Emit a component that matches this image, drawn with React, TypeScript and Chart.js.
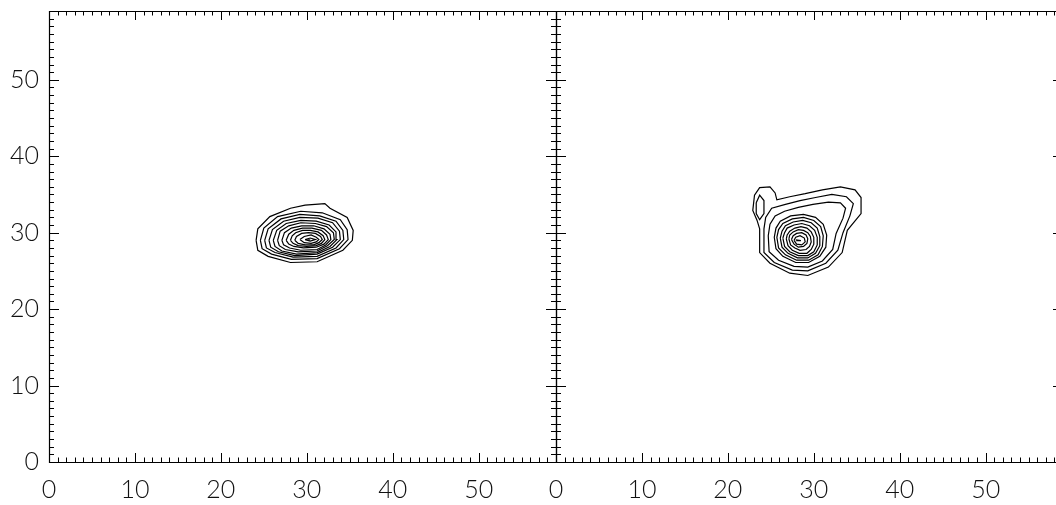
import React, { useEffect, useRef } from 'react';
import { Chart, registerables } from 'chart.js';

Chart.register(...registerables);

// ---- axes ----
const xTickLabels = [0, 10, 20, 30, 40, 50];
const yTickLabels = [0, 10, 20, 30, 40, 50];
const axisMin = 0;
const axisMax = 59;

// ---- left panel contours (x, y) ----
const leftRing1 = [[24.1,29.0],[24.3,27.7],[25.5,26.9],[28.1,26.1],[31.2,26.2],[34.2,27.7],[35.3,29.0],[35.4,30.3],[34.7,32.0],[32.7,33.2],[32.1,33.8],[29.8,33.6],[28.1,33.2],[25.7,32.1],[24.3,30.5],[24.1,29.0]];
const leftRing2 = [[24.6,29.0],[24.8,27.9],[25.9,27.2],[28.2,26.5],[31.2,26.6],[33.8,27.9],[34.8,29.1],[34.7,30.4],[33.9,31.7],[31.8,32.6],[29.3,32.8],[26.6,32.1],[25.0,30.6],[24.6,29.0]];
const leftRing3 = [[25.1,29.0],[25.3,28.0],[26.3,27.4],[28.4,26.8],[31.2,26.9],[33.4,28.0],[34.3,29.1],[34.2,30.3],[33.4,31.5],[31.5,32.2],[29.2,32.4],[27.0,31.8],[25.5,30.5],[25.1,29.0]];
const leftRing4 = [[25.6,29.0],[25.8,28.1],[26.7,27.5],[28.6,27.0],[31.2,27.2],[33.0,28.1],[33.9,29.1],[33.8,30.2],[33.0,31.3],[31.3,31.9],[29.2,32.0],[27.3,31.5],[26.0,30.4],[25.6,29.0]];
const leftRing5 = [[26.1,29.0],[26.3,28.2],[27.1,27.6],[28.8,27.2],[31.2,27.4],[32.7,28.2],[33.5,29.1],[33.4,30.1],[32.6,31.0],[31.1,31.5],[29.3,31.6],[27.6,31.2],[26.5,30.3],[26.1,29.0]];
const leftRing6 = [[26.6,29.0],[26.8,28.3],[27.5,27.8],[29.0,27.5],[31.2,27.6],[32.4,28.3],[33.2,29.1],[33.1,30.0],[32.3,30.8],[31.0,31.2],[29.3,31.3],[27.9,30.9],[26.9,30.2],[26.6,29.0]];
const leftRing7 = [[27.1,29.0],[27.3,28.4],[28.0,28.0],[29.3,27.7],[31.2,27.8],[32.2,28.4],[32.8,29.1],[32.7,29.8],[32.0,30.5],[30.8,30.9],[29.4,30.9],[28.2,30.6],[27.4,30.0],[27.1,29.0]];
const leftRing8 = [[27.6,29.0],[27.9,28.5],[28.5,28.2],[29.6,28.0],[31.1,28.1],[32.0,28.5],[32.5,29.1],[32.3,29.7],[31.7,30.3],[30.6,30.6],[29.5,30.6],[28.5,30.3],[27.9,29.8],[27.6,29.0]];
const leftRing9 = [[28.1,29.0],[28.4,28.6],[29.0,28.3],[30.0,28.2],[31.1,28.3],[31.7,28.6],[32.1,29.1],[31.9,29.6],[31.3,30.1],[30.4,30.3],[29.5,30.3],[28.7,30.0],[28.3,29.6],[28.1,29.0]];
const leftRing10 = [[28.6,29.0],[29.0,28.6],[29.8,28.4],[30.8,28.4],[31.4,28.7],[31.8,29.1],[31.6,29.5],[31.0,29.9],[30.2,30.0],[29.4,29.9],[28.8,29.5],[28.6,29.0]];
const leftRing11 = [[29.2,29.1],[29.7,28.7],[30.5,28.6],[31.1,28.8],[31.4,29.1],[31.1,29.4],[30.5,29.7],[29.7,29.5],[29.2,29.1]];
const leftRing12 = [[29.8,29.1],[30.4,28.9],[31.0,29.1],[30.4,29.3],[29.8,29.1]];
const leftPeak = [[30.1,29.05],[30.4,29.05]];

// ---- right panel contours (x, y) ----
const rightRing1 = [[23.7,30.5],[23.7,27.4],[24.9,26.0],[27.2,24.7],[29.3,24.4],[31.7,25.5],[33.3,27.4],[33.9,30.3],[35.5,32.5],[35.5,34.6],[34.8,35.6],[33.1,36.0],[31.0,35.6],[29.0,35.1],[27.2,34.7],[25.7,34.3],[25.5,35.2],[24.9,36.0],[23.7,35.9],[23.1,34.9],[22.9,32.9],[23.4,31.6],[23.7,30.5]];
const rightEar = [[23.3,33.9],[23.7,34.9],[24.2,34.2],[24.2,32.5],[23.7,31.7],[23.3,32.5],[23.3,33.9]];
const rightRing2 = [[24.2,30.5],[24.2,27.4],[25.4,26.1],[27.5,25.1],[29.3,25.0],[31.4,26.0],[32.8,27.7],[33.4,30.0],[34.2,32.2],[34.6,33.8],[33.8,34.7],[32.1,35.0],[30.2,34.6],[28.4,34.2],[26.7,33.7],[25.1,33.2],[24.4,32.0],[24.2,30.5]];
const rightRing3 = [[24.7,29.6],[24.8,27.5],[25.9,26.4],[27.7,25.6],[29.3,25.5],[31.0,26.3],[32.2,27.8],[32.6,29.9],[33.4,31.9],[33.7,33.2],[33.1,33.9],[31.7,34.0],[29.9,33.7],[28.2,33.3],[26.6,32.8],[25.5,32.2],[24.9,31.1],[24.7,29.6]];
const rightRing4 = [[25.4,29.4],[25.6,27.9],[26.4,26.9],[27.9,26.1],[29.4,26.1],[30.7,26.9],[31.4,28.1],[31.5,29.7],[31.1,31.1],[30.2,32.0],[28.8,32.4],[27.3,32.2],[26.1,31.5],[25.6,30.6],[25.4,29.4]];
const rightRing5 = [[25.7,29.4],[25.9,28.0],[26.7,27.1],[28.0,26.4],[29.4,26.4],[30.5,27.1],[31.0,28.2],[31.1,29.6],[30.8,30.8],[30.0,31.6],[28.8,32.0],[27.5,31.8],[26.4,31.2],[25.9,30.4],[25.7,29.4]];
const rightRing6 = [[26.1,29.3],[26.3,28.1],[27.0,27.3],[28.1,26.7],[29.3,26.7],[30.2,27.3],[30.7,28.3],[30.7,29.5],[30.4,30.6],[29.7,31.3],[28.7,31.6],[27.6,31.4],[26.7,30.9],[26.3,30.2],[26.1,29.3]];
const rightRing7 = [[26.4,29.3],[26.6,28.2],[27.2,27.5],[28.2,27.0],[29.3,27.0],[30.0,27.5],[30.4,28.4],[30.4,29.4],[30.1,30.3],[29.5,30.9],[28.6,31.2],[27.7,31.0],[26.9,30.6],[26.6,30.0],[26.4,29.3]];
const rightRing8 = [[26.8,29.2],[27.0,28.3],[27.5,27.7],[28.3,27.3],[29.2,27.3],[29.7,27.8],[30.0,28.5],[30.0,29.4],[29.7,30.1],[29.2,30.6],[28.5,30.8],[27.8,30.6],[27.2,30.2],[26.9,29.7],[26.8,29.2]];
const rightRing9 = [[27.1,29.2],[27.3,28.4],[27.8,28.0],[28.4,27.7],[29.1,27.8],[29.5,28.2],[29.7,28.8],[29.6,29.5],[29.3,30.0],[28.8,30.3],[28.2,30.4],[27.6,30.1],[27.2,29.7],[27.1,29.2]];
const rightRing10 = [[27.4,29.1],[27.7,28.5],[28.2,28.1],[28.8,28.2],[29.2,28.6],[29.3,29.2],[29.1,29.7],[28.6,30.0],[28.0,29.9],[27.6,29.6],[27.4,29.1]];
const rightRing11 = [[27.7,29.0],[28.0,28.5],[28.6,28.4],[29.0,28.8],[28.9,29.3],[28.4,29.6],[27.9,29.4],[27.7,29.0]];
const rightPeak = [[27.9,29.05],[28.5,28.95],[27.95,28.95]];

const leftContours = [leftRing1, leftRing2, leftRing3, leftRing4, leftRing5, leftRing6, leftRing7, leftRing8, leftRing9, leftRing10, leftRing11, leftRing12, leftPeak];
const rightContours = [rightRing1, rightEar, rightRing2, rightRing3, rightRing4, rightRing5, rightRing6, rightRing7, rightRing8, rightRing9, rightRing10, rightRing11, rightPeak];

const FONT = { family: 'Lato, "Open Sans", "DejaVu Sans", sans-serif', size: 25, weight: '300' as const };

const idlFrame = {
  id: 'idlFrame',
  afterDatasetsDraw(chart: any) {
    const { ctx, chartArea: a, scales } = chart;
    const xs = scales.x;
    const ys = scales.y;
    ctx.save();
    ctx.strokeStyle = '#000';
    ctx.lineWidth = 1.2;
    ctx.beginPath();
    ctx.rect(Math.round(a.left) + 0.5, Math.round(a.top) + 0.5, Math.round(a.right - a.left), Math.round(a.bottom - a.top));
    ctx.stroke();
    ctx.lineWidth = 1;
    ctx.beginPath();
    for (let v = axisMin; v <= axisMax; v++) {
      const major = v % 10 === 0;
      const px = Math.round(xs.getPixelForValue(v)) + 0.5;
      const lx = major ? 9 : 4.5;
      ctx.moveTo(px, a.bottom); ctx.lineTo(px, a.bottom - lx);
      ctx.moveTo(px, a.top); ctx.lineTo(px, a.top + lx);
      const py = Math.round(ys.getPixelForValue(v)) + 0.5;
      const ly = major ? 10 : 5;
      ctx.moveTo(a.left, py); ctx.lineTo(a.left + ly, py);
      ctx.moveTo(a.right, py); ctx.lineTo(a.right - ly, py);
    }
    ctx.stroke();
    ctx.restore();
  },
};

function buildChart(canvas: HTMLCanvasElement, contours: number[][][], showY: boolean, padLeft: number) {
  return new Chart(canvas, {
    type: 'scatter',
    data: {
      datasets: contours.map((ring) => ({
        data: ring.map(([x, y]) => ({ x, y })),
        showLine: true,
        borderColor: '#000',
        borderWidth: 1.2,
        pointRadius: 0,
        fill: false,
        tension: 0,
      })),
    },
    options: {
      animation: false,
      responsive: false,
      maintainAspectRatio: false,
      events: [],
      layout: { padding: { top: 11, right: 4, left: padLeft, bottom: 0 } },
      plugins: { legend: { display: false }, tooltip: { enabled: false } },
      scales: {
        x: {
          type: 'linear',
          min: axisMin,
          max: axisMax,
          grid: { display: false, drawTicks: false },
          border: { display: false },
          afterBuildTicks: (s: any) => { s.ticks = xTickLabels.map((v) => ({ value: v })); },
          ticks: { padding: 13, color: '#111', font: FONT, maxRotation: 0, autoSkip: false, includeBounds: false },
          afterFit: (s: any) => { s.height = 43; s.paddingLeft = 0; s.paddingRight = 0; },
        },
        y: {
          type: 'linear',
          display: showY,
          min: axisMin,
          max: axisMax,
          grid: { display: false, drawTicks: false },
          border: { display: false },
          afterBuildTicks: (s: any) => { s.ticks = yTickLabels.map((v) => ({ value: v })); },
          ticks: { padding: 10, color: '#111', font: FONT, autoSkip: false, includeBounds: false },
          afterFit: (s: any) => { s.width = showY ? 49 : 0; s.paddingTop = 0; s.paddingBottom = 0; },
        },
      },
    } as any,
    plugins: [idlFrame],
  });
}

export default function App() {
  const leftRef = useRef<HTMLCanvasElement>(null);
  const rightRef = useRef<HTMLCanvasElement>(null);

  useEffect(() => {
    const a = buildChart(leftRef.current!, leftContours, true, 0);
    const b = buildChart(rightRef.current!, rightContours, false, 20);
    return () => { a.destroy(); b.destroy(); };
  }, []);

  return (
    <div style={{ position: 'fixed', left: 0, top: 0, width: 1056, height: 505, overflow: 'hidden', background: '#fff' }}>
      <canvas ref={leftRef} width={560} height={505} style={{ position: 'absolute', left: 0, top: 0, width: 560, height: 505 }} />
      <canvas ref={rightRef} width={531} height={505} style={{ position: 'absolute', left: 536, top: 0, width: 531, height: 505 }} />
    </div>
  );
}
